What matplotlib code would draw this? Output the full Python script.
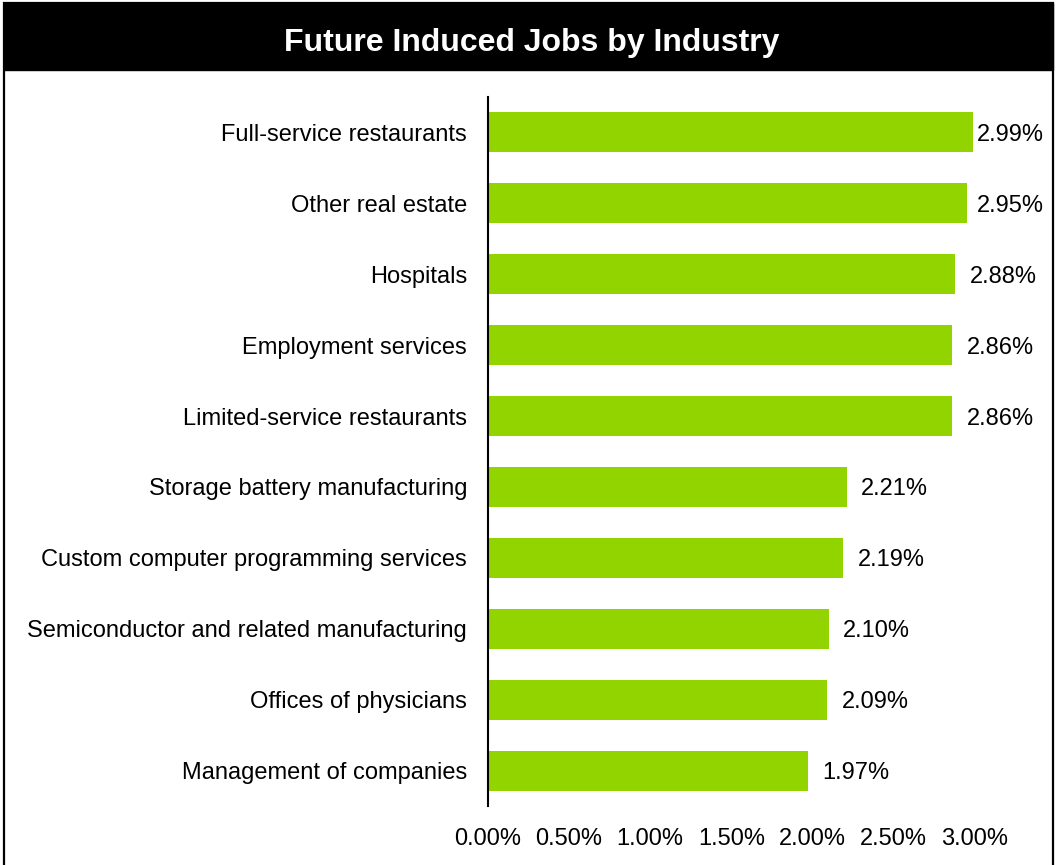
import matplotlib.pyplot as plt
from matplotlib.patches import Rectangle
from matplotlib.ticker import FuncFormatter

plt.rcParams['font.family'] = ['Liberation Sans', 'DejaVu Sans']

industries = [
    "Full-service restaurants",
    "Other real estate",
    "Hospitals",
    "Employment services",
    "Limited-service restaurants",
    "Storage battery manufacturing",
    "Custom computer programming services",
    "Semiconductor and related manufacturing",
    "Offices of physicians",
    "Management of companies",
]
shares = [2.99, 2.95, 2.88, 2.86, 2.86, 2.21, 2.19, 2.10, 2.09, 1.97]
xticks = [0.0, 0.5, 1.0, 1.5, 2.0, 2.5, 3.0]

bar_color = "#92D400"

fig = plt.figure(figsize=(10.63, 8.65), dpi=100)

# outer frame and black title banner
fig.patches.append(Rectangle((0.004, -0.05), 0.987, 1.047, transform=fig.transFigure,
                             fill=False, edgecolor="black", linewidth=1.6, zorder=0))
fig.patches.append(Rectangle((0.004, 0.919), 0.987, 0.078, transform=fig.transFigure,
                             facecolor="black", edgecolor="black", zorder=1))
fig.text(0.5, 0.954, "Future Induced Jobs by Industry", color="white",
         fontsize=23, fontweight="bold", ha="center", va="center_baseline")

ax = fig.add_axes([0.459, 0.068, 0.458, 0.820])
ypos = list(range(len(industries)))
ax.barh(ypos, shares, height=0.56, color=bar_color)

ax.set_ylim(len(industries) - 0.5, -0.5)
ax.set_xlim(0, 3.0)
ax.set_yticks(ypos)
ax.set_yticklabels(industries, fontsize=17, va="center_baseline")
ax.set_xticks(xticks)
ax.xaxis.set_major_formatter(FuncFormatter(lambda v, p: f"{v:.2f}%"))
ax.tick_params(axis="x", labelsize=17, length=0, pad=16)
ax.tick_params(axis="y", length=0, pad=15)

for side in ["top", "right", "bottom"]:
    ax.spines[side].set_visible(False)
ax.spines["left"].set_linewidth(1.5)

# value labels, kept inside the frame for the longest bars
for y, v in zip(ypos, shares):
    ax.text(min(v + 0.09, 3.01), y, f"{v:.2f}%", fontsize=17,
            ha="left", va="center_baseline")

fig.savefig("out.png", dpi=100)
